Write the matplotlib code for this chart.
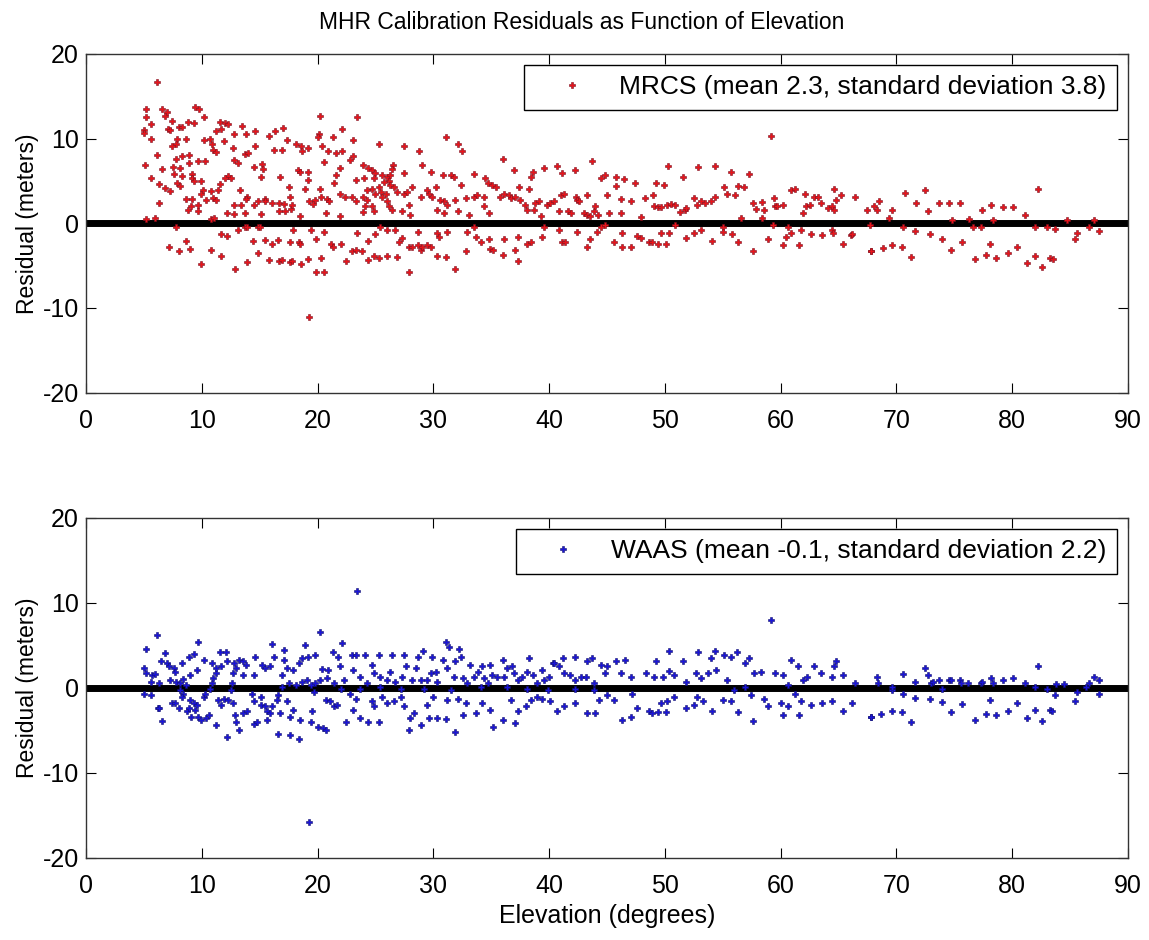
import matplotlib
matplotlib.use("Agg")
import matplotlib.pyplot as plt

# elevation (deg), residual (m)
mrcs_points = [
    (6.1,16.7),(5.2,13.5),(5.2,12.5),(5.0,11.0),(5.0,10.6),(5.6,11.7),(5.6,9.9),(6.1,8.1),(5.1,6.9),(5.6,5.3),(6.3,4.6),(6.3,2.4),(5.2,0.5),(6.0,0.6),
    (6.6,13.5),(7.0,13.1),(6.8,12.7),(7.4,12.1),(7.1,11.1),(7.3,11.0),(8.0,11.3),(8.3,11.3),(7.9,9.9),(7.8,9.4),(7.4,9.1),(8.6,10.0),(8.8,12.0),(9.3,11.8),
    (9.4,13.7),(9.8,13.5),(10.2,12.5),(10.2,9.8),(10.7,9.9),(10.9,9.3),(11.0,8.7),(11.2,8.4),
    (7.8,7.6),(8.3,7.9),(8.9,8.0),(8.9,7.1),(9.7,7.3),(10.3,7.4),(6.6,6.4),(7.5,6.6),(8.1,6.5),(7.6,5.8),(8.3,5.6),(9.2,5.8),(9.2,5.3),(9.3,5.0),
    (7.9,4.7),(8.1,4.4),(7.3,3.8),(6.8,4.2),
    (8.6,2.9),(9.2,2.9),(9.1,2.0),(8.8,1.6),(9.7,2.1),(9.7,1.5),(9.9,5.0),(10.1,3.9),(9.9,3.5),(10.4,2.7),(11.0,3.0),(11.2,2.7),(10.8,3.8),(11.4,3.9),(11.6,4.6),
    (11.2,10.9),(11.7,11.1),(11.6,12.0),(12.0,11.8),(12.3,11.7),(11.9,9.7),(12.8,10.5),(12.7,8.9),(13.5,11.5),(13.8,10.5),(13.7,8.2),(14.0,8.3),(14.6,10.9),(14.6,9.1),
    (12.8,7.5),(13.1,7.1),(12.3,5.6),(12.5,5.3),(12.0,5.3),(13.3,3.9),(13.9,3.1),(13.8,2.9),(13.4,2.2),(12.8,2.1),(12.2,1.2),(12.8,1.1),(13.7,1.2),
    (14.5,6.6),(15.2,7.0),(15.3,6.4),(15.1,5.5),(15.8,10.3),(16.3,10.9),(17.0,11.2),(16.2,8.7),(16.9,8.7),
    (14.5,2.2),(14.9,2.6),(15.1,1.1),(15.5,2.9),(15.5,2.6),(16.1,2.4),(16.7,2.4),(17.1,2.3),(16.7,1.4),(17.2,1.4),(17.7,1.7),(17.8,2.2),(17.6,3.1),(17.5,4.3),
    (16.8,5.4),(17.4,9.8),(18.1,9.4),(18.6,9.1),(18.7,8.5),(19.2,8.9),(18.3,6.3),(18.5,6.1),(19.2,6.1),(19.2,5.1),(18.9,4.0),(18.5,0.9),
    (19.3,2.6),(19.6,2.3),(19.8,2.8),(20.2,4.1),(20.3,3.1),(20.8,2.9),(21.0,2.6),(20.7,1.2),(20.1,10.5),(20.0,10.2),(20.4,9.1),(21.3,10.2),(20.9,8.5),
    (21.6,8.3),(22.1,8.5),(22.1,11.1),(20.6,7.2),(21.9,6.5),(21.6,5.7),(21.4,4.7),(21.9,3.4),(22.4,3.1),(20.2,12.7),
    (7.8,-0.4),(7.2,-2.8),(8.0,-3.3),(8.6,-2.1),(9.0,-3.0),(9.9,-4.8),(10.8,-3.1),(11.7,-3.9),(11.7,-1.3),(12.2,-1.5),(13.1,-0.8),(13.7,-0.4),(13.9,-0.4),
    (14.9,-0.4),(15.0,-0.4),
    (12.9,-5.4),(13.9,-4.6),(14.4,-2.1),(14.9,-3.5),(15.5,-2.0),(15.8,-4.3),(16.1,-2.4),(16.7,-4.5),(16.6,-2.0),(16.9,-4.3),(17.6,-2.2),(17.6,-4.6),
    (17.8,-4.5),(17.9,-0.8),(18.4,-2.2),(18.5,-2.5),(18.6,-4.8),
    (19.2,-4.2),(19.4,-0.8),(19.9,-5.7),(20.6,-5.7),(19.9,-1.8),(20.3,-4.1),(20.6,-1.0),(21.2,-2.4),(21.3,-2.8),(22.0,-2.4),(22.5,-4.5),(19.3,-11.1),
    (10.8,0.5),(11.1,0.6),(21.9,0.8),
    (23.4,12.5),(23.1,9.8),(25.3,9.4),(27.5,9.1),(28.8,8.5),(31.1,10.2),(32.1,9.3),(32.5,8.5),(36.0,7.6),(23.1,7.9),(22.8,7.5),
    (23.9,6.9),(24.4,6.5),(24.7,6.3),(25.0,5.9),(25.6,5.7),(26.0,5.5),(26.3,5.7),(26.2,5.0),(25.7,4.9),(26.5,6.9),(26.4,6.4),(26.3,4.5),(26.6,4.3),
    (23.3,5.1),(24.0,5.3),(24.9,5.3),(25.3,4.3),(25.5,3.7),(25.0,3.5),(25.6,3.1),(24.7,4.0),(24.3,3.9),
    (23.0,3.1),(23.3,2.6),(23.9,3.1),(24.1,2.0),(24.7,2.0),(24.9,1.4),(23.9,1.3),(24.3,2.8),
    (25.9,3.5),(26.0,2.6),(26.2,2.0),(26.4,1.6),(26.9,3.7),(27.3,1.4),(27.5,3.5),(27.7,3.7),(28.0,1.0),(28.2,4.3),(27.5,5.9),(27.9,2.2),(28.9,3.1),
    (29.0,6.9),(29.5,3.9),(29.6,3.5),(29.9,3.1),(29.8,6.1),(30.2,4.3),(30.8,5.7),(30.9,2.6),(31.2,2.2),(31.5,5.7),(31.8,5.5),(30.6,2.8),(30.3,1.6),
    (30.9,1.2),(31.9,2.8),(32.1,1.4),(32.4,4.5),(32.8,3.0),(33.1,1.0),(33.5,5.8),(33.5,3.1),(33.8,3.3),(34.4,3.1),(34.5,5.3),(34.7,4.7),(34.4,2.0),
    (34.8,1.2),(35.1,4.5),(35.4,4.3),(35.8,3.1),(36.1,3.5),(36.5,3.3),(36.7,3.0),(37.0,6.3),(37.1,3.1),(37.4,4.3),(37.5,2.8),(37.9,2.2),(38.1,1.6),
    (38.3,4.1),(38.4,5.5),(38.6,6.1),(38.7,1.6),(38.8,2.4),(39.1,2.6),(39.3,0.8),(39.6,6.5),(39.8,2.2),(40.1,2.4),(40.4,2.6),(40.7,6.7),(40.9,1.4),
    (41.0,3.3),(41.1,5.9),(41.3,3.5),(41.6,1.4),(41.9,1.2),(42.2,6.3),(42.3,3.1),(42.4,2.8),(42.6,2.6),(43.0,1.2),(43.3,1.0),(43.3,3.3),(43.5,0.8),
    (43.7,7.3),(43.9,1.4),(44.0,2.0),(44.2,1.0),(44.5,5.3),(44.8,5.7),(45.0,3.3),(45.2,1.2),
    (23.4,-1.2),(23.0,-3.3),(23.3,-3.1),(23.8,-3.3),(24.4,-4.3),(24.9,-3.9),(25.3,-4.1),(26.0,-3.9),(25.0,-1.3),(24.4,-2.1),(25.4,-0.4),(26.0,-0.8),
    (26.7,-0.8),(27.0,-2.2),(27.3,-1.7),(26.9,-4.0),(27.9,-5.7),(27.9,-2.8),(28.2,-2.8),(28.7,-2.6),(28.9,-3.1),(29.0,-2.8),(29.5,-2.6),(29.8,-2.8),
    (28.7,-1.0),(30.3,-1.2),(30.5,-1.6),(30.3,-3.9),(31.1,-4.0),(31.2,-1.0),(31.9,-5.4),(32.8,-3.3),(32.9,-1.0),(33.5,-0.4),(33.7,-1.6),(34.1,-2.2),
    (34.8,-1.8),(34.9,-3.0),(35.2,-3.1),(36.0,-3.7),(36.1,-1.8),(37.1,-3.1),(37.3,-4.5),(37.3,-1.6),(38.1,-2.4),(38.4,-2.2),(39.4,-1.6),(39.6,-0.4),
    (40.9,-0.8),(41.1,-2.2),(41.4,-2.2),(42.4,-1.0),(43.3,-2.8),(43.5,-1.8),(44.1,-1.0),(44.5,-0.4),(44.8,-0.2),
    (59.2,10.3),(50.3,6.7),(52.9,6.6),(54.3,6.7),(51.6,5.4),(55.7,6.1),(57.3,5.8),(45.8,5.4),(46.5,5.2),(47.4,4.8),(49.2,4.8),(49.9,4.5),(45.8,4.4),
    (46.2,2.9),(47.1,2.6),(48.3,3.0),(49.0,3.3),(49.1,2.0),(49.4,1.9),(49.7,1.9),(50.2,2.2),(50.5,2.3),(50.9,2.2),(51.3,1.3),(51.7,1.6),(51.8,1.8),
    (52.5,3.0),(52.8,2.1),(53.1,2.6),(53.5,2.4),(54.0,2.6),(54.3,3.1),(55.1,4.3),(55.4,3.5),(56.1,3.3),(56.3,4.4),(56.8,4.3),(57.6,2.4),(57.9,1.7),
    (58.4,2.5),(58.6,1.6),(59.4,3.0),(59.5,2.0),(59.7,2.0),(60.2,2.2),(60.9,3.9),(61.2,4.1),(62.1,3.5),(61.9,1.2),(62.2,2.0),(62.5,2.2),(62.9,3.1),
    (63.2,3.1),(63.5,2.4),(64.1,1.8),(64.4,2.0),(64.6,4.1),(64.8,2.8),(65.2,3.3),(64.6,1.6),(66.4,3.1),(67.5,1.6),
    (46.2,1.2),(47.9,0.7),(50.9,-0.2),(53.1,-0.8),(55.0,-0.4),(56.6,0.6),(58.4,0.6),(59.3,-0.2),(60.6,-0.4),(61.8,-0.8),(64.4,-0.8),(66.1,-1.4),(67.7,-0.2),
    (46.3,-1.1),(45.6,-2.2),(46.3,-2.8),(47.1,-2.8),(47.6,-1.5),(47.9,-1.7),(48.6,-2.2),(48.9,-2.2),(49.4,-2.4),(49.7,-1.1),(50.1,-2.4),(50.4,-1.1),
    (51.8,-1.7),(52.5,-1.2),(54.1,-2.1),(55.0,-1.0),(55.8,-1.3),(56.3,-2.2),(57.6,-3.3),(58.9,-1.8),(60.2,-2.6),(60.5,-1.6),(60.9,-1.2),(61.6,-2.6),
    (62.6,-1.3),(63.6,-1.4),(64.5,-1.1),(65.4,-2.4),(66.2,-1.3),(67.8,-3.3),
    (68.1,2.0),(68.3,1.6),(68.5,2.6),(69.6,1.6),(69.4,0.6),(70.7,3.6),(71.7,2.4),(72.5,3.9),(72.7,1.4),(73.7,2.4),(74.5,2.4),(75.5,2.4),(74.8,0.4),
    (76.3,0.5),(76.6,-0.4),(77.3,-0.4),(77.4,1.6),(78.2,2.2),(78.3,0.4),(79.2,1.9),(80.1,1.9),(81.1,1.0),(82.2,4.0),(82.0,-0.4),(83.0,-0.4),(83.7,-0.7),
    (84.7,0.4),(85.6,-1.2),(85.4,-1.8),(86.6,-0.4),(87.1,0.4),(87.5,-0.9),
    (67.8,-3.3),(68.8,-2.9),(69.6,-2.6),(70.5,-2.8),(71.3,-4.0),(70.6,-0.4),(71.6,-0.9),(72.9,-1.3),(73.9,-1.9),(74.7,-3.1),(75.7,-2.2),(76.8,-4.2),
    (77.7,-3.7),(78.1,-2.5),(78.6,-4.1),(79.6,-3.5),(80.4,-2.8),(81.3,-4.7),(82.0,-3.9),(82.6,-5.2),(83.3,-4.1),(83.5,-4.2),
]

waas_points = [
    (6.1,6.2),(5.2,4.6),(5.0,2.3),(5.2,1.7),(5.7,1.5),(6.0,1.6),(5.6,0.7),(6.3,0.6),(5.0,-0.7),(5.6,-0.9),(6.2,-2.4),(6.3,-2.4),(6.6,-3.9),
    (6.8,4.1),(6.5,3.1),(7.0,2.9),(7.2,2.5),(7.6,2.3),(7.7,1.9),(7.3,0.9),(7.8,0.7),(8.1,0.5),(8.4,1.0),(8.6,0.3),(8.1,-0.3),(8.4,-0.7),(8.3,-1.1),
    (7.4,-1.8),(7.7,-1.8),(8.0,-2.4),(8.7,-2.8),(8.9,-2.4),(9.0,-1.5),(9.3,-1.8),(9.6,-2.0),(9.4,-2.6),(9.1,-3.4),(9.7,-3.4),(9.9,-3.8),(10.4,-3.6),
    (10.6,-3.2),(10.2,-1.1),(10.3,-0.7),(10.7,-0.1),(10.9,0.5),(11.0,1.1),(11.2,1.7),(10.9,2.9),(11.2,2.3),(11.6,4.2),(12.1,4.2),(11.7,2.5),(12.2,3.1),
    (12.8,2.9),(13.2,3.3),(13.6,3.1),(13.8,2.7),(13.0,2.3),(13.6,1.5),(12.7,1.7),(12.6,0.5),(12.5,-0.3),(11.9,-1.3),(12.3,-1.5),(12.7,-1.8),(11.7,-2.0),
    (11.4,-1.5),(11.2,-4.4),(12.2,-5.8),(12.9,-3.2),(13.0,-4.0),(13.2,-5.0),(13.6,-3.0),(13.9,-2.8),(14.5,-4.3),(14.8,-4.0),(15.1,-2.0),(15.5,-2.2),
    (15.6,-2.8),(15.9,-3.0),(16.1,-2.2),(15.6,-3.8),(16.6,-5.4),(17.6,-5.6),(18.4,-6.0),(16.8,-3.0),(17.6,-3.4),(17.9,-2.6),(17.4,-1.6),(16.6,-0.9),
    (16.9,0.1),(17.5,0.5),(18.1,0.3),(18.7,0.7),(19.1,0.9),(19.4,0.3),(19.7,-0.5),(19.8,0.5),(20.2,0.9),(20.8,1.1),(21.4,0.5),(20.7,-1.5),(21.1,-1.6),
    (21.4,-2.2),(21.7,-2.0),(22.0,-0.1),(22.3,0.9),(21.9,2.6),(21.8,3.6),(22.1,5.2),(21.3,4.2),(20.9,2.1),(20.4,2.2),(20.2,6.5),(19.8,3.8),(19.2,3.6),
    (18.9,5.0),(18.7,3.5),(18.4,2.9),(17.9,2.1),(17.4,2.3),(16.9,1.5),(17.1,3.3),(17.1,4.4),(16.1,5.1),(16.2,3.6),(15.9,2.5),(15.5,2.3),(15.2,2.7),
    (14.6,3.6),(14.5,1.5),(14.3,-0.7),(15.1,-1.1),(16.5,-1.5),(18.5,-3.8),(19.5,-2.8),(19.4,-4.0),(20.0,-4.6),(20.5,-4.8),(20.7,-5.0),(22.5,-4.0),
    (14.5,-1.6),(9.7,5.4),(9.3,4.0),(8.9,3.6),(8.3,2.9),(10.2,3.3),(9.6,2.1),(9.0,1.5),(19.3,-15.8),
    (23.4,11.4),(23.0,3.8),(23.3,3.8),(24.1,3.9),(25.3,3.9),(26.4,3.9),(27.5,3.8),(28.7,3.6),(29.1,4.3),(29.9,3.6),(31.1,5.4),(31.4,4.8),(32.2,4.6),
    (32.4,3.6),(33.2,2.7),(34.2,2.5),(34.9,2.7),(36.0,3.2),(36.8,2.5),(38.3,3.5),(39.4,2.1),(40.3,2.9),(41.2,3.5),(42.2,3.6),(43.3,3.1),(43.7,3.5),
    (44.5,2.7),(45.0,2.5),
    (23.1,2.1),(23.7,1.3),(24.3,0.5),(24.7,2.7),(24.9,1.7),(25.4,1.3),(26.0,0.9),(26.3,1.9),(26.7,0.7),(27.3,1.3),(27.6,2.5),(28.2,0.9),(28.5,2.3),
    (28.9,0.9),(29.5,0.9),(29.8,1.7),(30.2,1.9),(30.3,0.7),(30.8,3.3),(31.2,2.3),(31.8,1.3),(31.9,3.1),(32.6,1.1),(32.9,0.5),(33.5,1.3),(33.9,1.9),
    (34.4,1.1),(34.7,0.5),(35.1,1.5),(35.5,1.3),(36.1,1.3),(36.4,2.3),(37.0,1.7),(37.3,0.9),(37.7,1.3),(38.1,1.9),(38.6,1.5),(39.0,0.5),(39.6,0.9),
    (40.0,1.3),(40.4,2.9),(40.9,2.5),(41.3,1.7),(41.8,1.5),(42.2,0.9),(42.8,1.3),(43.2,1.3),(43.9,0.5),(44.8,1.7),
    (22.8,-0.7),(23.3,-1.3),(23.1,-2.6),(23.7,-3.6),(24.4,-4.0),(24.9,-2.2),(25.3,-4.0),(24.7,-1.6),(25.6,-1.1),(26.0,-1.8),(26.6,-1.6),(27.2,-1.1),
    (27.5,-2.2),(27.9,-5.0),(28.0,-3.6),(28.3,-3.0),(28.9,-4.4),(29.6,-3.6),(30.3,-3.6),(31.1,-3.7),(29.5,-2.0),(30.0,-1.1),(31.2,-1.5),(32.1,-1.3),
    (31.9,-5.2),(32.6,-3.2),(32.8,-1.8),(33.7,-3.0),(34.2,-1.8),(34.9,-2.6),(35.2,-4.6),(36.0,-3.8),(36.7,-1.5),(37.1,-4.2),(37.3,-2.8),(38.0,-2.2),
    (38.4,-1.5),(39.0,-1.1),(39.4,-1.3),(40.1,-1.6),(40.7,-2.8),(41.3,-2.2),(42.2,-1.8),(43.3,-3.0),(44.0,-3.0),(44.3,-1.5),(45.0,-0.9),
    (23.7,-0.1),(25.4,0.1),(27.2,-0.1),(29.2,-0.1),(31.5,-0.3),(34.1,0.1),(36.4,0.1),(38.1,-0.1),(39.9,-0.3),(42.2,-0.1),(43.9,-0.3),
    (59.2,8.0),(50.4,4.3),(52.9,4.2),(54.3,4.3),(55.1,3.9),(55.7,3.6),(56.2,4.2),(57.3,3.5),(56.9,2.9),(54.0,3.5),(51.6,3.1),(49.2,3.1),(46.6,3.3),
    (45.8,3.1),(60.9,3.3),(61.5,2.5),(62.9,2.5),(64.8,3.1),(64.6,2.5),(65.4,1.5),(66.4,0.6),
    (46.2,1.7),(47.1,1.3),(48.4,1.7),(49.1,1.3),(49.8,1.3),(50.4,2.0),(50.8,1.5),(51.8,0.7),(52.7,1.7),(53.1,1.1),(53.7,1.7),(54.4,2.1),(55.4,0.9),
    (56.0,-0.3),(56.9,0.1),(57.7,1.7),(58.3,1.9),(59.5,1.7),(60.2,1.5),(60.6,0.3),(61.9,0.9),(62.3,1.3),(63.5,1.7),(64.4,1.3),
    (45.6,-1.5),(46.3,-3.8),(47.1,-3.4),(47.2,-0.7),(47.6,-2.4),(48.6,-2.8),(48.9,-3.0),(49.4,-2.9),(49.7,-1.8),(50.2,-1.6),(50.1,-2.9),(50.8,-1.1),
    (51.8,-2.4),(52.5,-2.0),(52.8,-1.1),(53.3,-1.6),(54.1,-2.8),(55.0,-1.5),(55.7,-1.6),(56.3,-2.9),(57.6,-3.9),(57.4,-0.9),(58.6,-1.3),(58.9,-2.2),
    (60.0,-1.8),(60.2,-3.2),(60.6,-2.2),(61.2,-0.7),(61.6,-3.2),(61.8,-1.6),(62.6,-2.0),(63.6,-1.8),(64.4,-1.6),(65.4,-2.7),(66.2,-1.8),(67.8,-3.5),
    (68.3,1.2),(68.4,0.5),(69.6,-0.3),(69.6,0.1),(70.6,1.6),(70.6,-0.7),(71.6,0.7),(71.6,-1.2),(72.5,2.3),(72.7,1.5),(73.0,0.5),(73.2,0.7),(73.7,0.9),
    (73.9,-0.1),(74.5,0.9),(74.7,0.9),(75.5,0.9),(75.6,0.5),(76.2,0.6),(77.3,0.5),(77.4,0.7),(78.2,1.1),(78.3,0.5),(79.2,0.9),(80.1,1.1),(81.1,0.5),
    (82.2,2.5),(82.0,0.1),(83.0,-0.1),(83.8,0.4),(84.5,0.4),(85.6,-0.5),(85.4,-1.6),(86.4,0.1),(86.6,0.6),(87.1,1.3),(87.5,0.9),(87.5,-0.8),
    (67.8,-3.5),(68.7,-3.1),(69.6,-2.7),(70.5,-2.9),(71.3,-4.0),(72.9,-1.3),(73.9,-1.7),(74.7,-2.9),(75.7,-1.9),(76.8,-3.8),(77.7,-3.1),(78.1,-1.5),
    (78.6,-3.2),(79.6,-2.7),(80.4,-1.8),(81.3,-3.6),(82.0,-2.6),(82.6,-3.9),(83.3,-2.6),(83.4,-2.8),(83.7,-0.9),
]

series = [
    ("MRCS (mean 2.3, standard deviation 3.8)", mrcs_points, "#e8141a", "#7a1020"),
    ("WAAS (mean -0.1, standard deviation 2.2)", waas_points, "#1a14d8", "#10106a"),
]

plt.rcParams["font.family"] = ["Liberation Sans", "DejaVu Sans"]
plt.rcParams["axes.unicode_minus"] = False

fig = plt.figure(figsize=(11.49, 9.40), dpi=100)
ax_top = fig.add_axes([0.0748, 0.5822, 0.9069, 0.3606])
ax_bot = fig.add_axes([0.0748, 0.0876, 0.9069, 0.3617])

for ax, (label, pts, col, edge) in zip([ax_top, ax_bot], series):
    xs = [p[0] for p in pts]
    ys = [p[1] for p in pts]
    ax.plot(xs, ys, linestyle="none", marker="P", markersize=4.4,
            color=col, markeredgecolor=edge, markeredgewidth=0.4,
            label=label, zorder=3)
    ax.axhline(0, color="black", linewidth=5, zorder=2)
    ax.set_xlim(0, 90)
    ax.set_ylim(-20, 20)
    ax.set_xticks(range(0, 91, 10))
    ax.set_yticks([-20, -10, 0, 10, 20])
    ax.tick_params(direction="in", top=True, right=True, length=7,
                   labelsize=18, width=0.8)
    ax.tick_params(axis="x", pad=12)
    ax.tick_params(axis="y", pad=5)
    for s in ax.spines.values():
        s.set_linewidth(1.0)
        s.set_color("#333333")
    ax.set_ylabel("Residual (meters)", fontsize=16.5, labelpad=3)
    leg = ax.legend(loc="upper right", fontsize=19, frameon=True, fancybox=False,
                    framealpha=1, edgecolor="black", handletextpad=0.4,
                    borderpad=0.4, handlelength=2.8, markerscale=1.0,
                    borderaxespad=0.42)
    leg.get_frame().set_linewidth(1.0)

fig.text(0.506, 0.976, "MHR Calibration Residuals as Function of Elevation",
         fontsize=16.5, ha="center", va="center")
ax_bot.set_xlabel("Elevation (degrees)", fontsize=18, labelpad=4)

fig.savefig("out.png", dpi=100)
